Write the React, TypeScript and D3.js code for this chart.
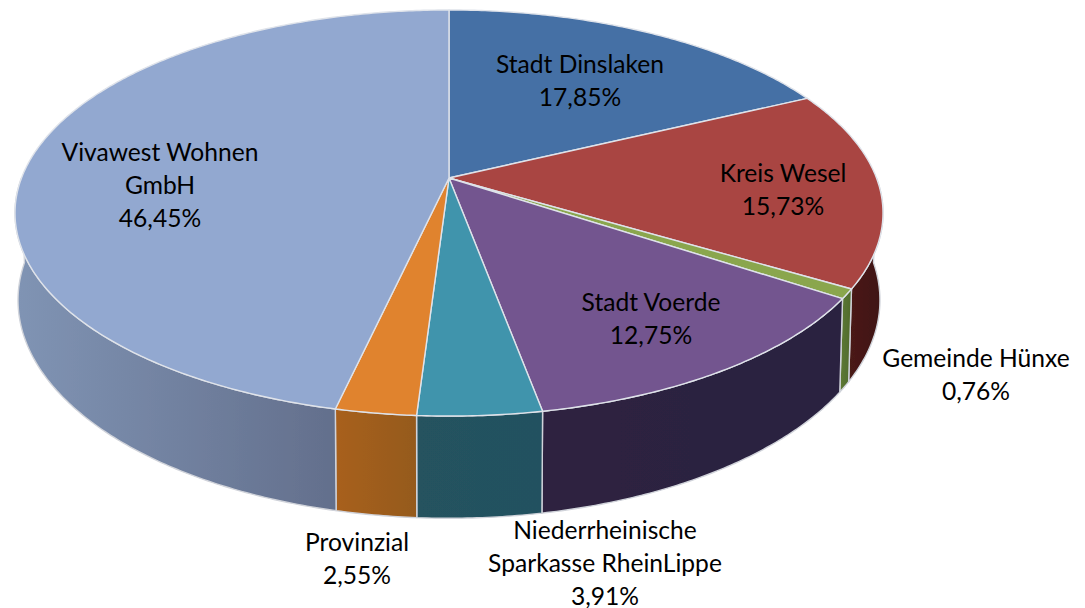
import * as d3 from "d3";

const categories = ["Stadt Dinslaken", "Kreis Wesel", "Gemeinde Hünxe", "Stadt Voerde", "Niederrheinische Sparkasse RheinLippe", "Provinzial", "Vivawest Wohnen GmbH"];
const shares = [17.85, 15.73, 0.76, 12.75, 3.91, 2.55, 46.45];
const topColors = ["#456fa5", "#a94543", "#8aa64e", "#73558f", "#3f94ac", "#e0832f", "#92a8d0"];
const wallLeft = ["#2b4468", "#4a1a17", "#5f7a35", "#2e2340", "#25525f", "#a8601f", "#8094b4"];
const wallRight = ["#2b4468", "#3f1512", "#4f6a2c", "#2a2040", "#235160", "#955a1e", "#636f8c"];

// label text lines, one list per slice
const labelLines = [
  ["Stadt Dinslaken"],
  ["Kreis Wesel"],
  ["Gemeinde Hünxe"],
  ["Stadt Voerde"],
  ["Niederrheinische", "Sparkasse RheinLippe"],
  ["Provinzial"],
  ["Vivawest Wohnen", "GmbH"],
];
// centre of each label's first line
const labelX = [580, 783, 976, 651, 605, 357, 160];
const labelY = [63, 172, 357, 301, 529, 541, 151];

const width = 1085;
const height = 608;
const cx = 449;
const cy = 178;
const rx = 427.5;
const ry = 197;
const tilt = 0.1724;
const depth = 84.6;
const wallShrink = 0.993;
const wallCx = 447;

const fmt = d3.format(".2f");
const pct = (v: number) => fmt(v).replace(".", ",") + "%";

// circle angle -> perspective point on the top face
function topPoint(a: number): [number, number] {
  const u = Math.sin(a);
  const v = -Math.cos(a);
  const s = 1 / (1 - tilt * v);
  return [cx + rx * u * s, cy + ry * v * s];
}

// same angle on the lower rim
function bottomPoint(a: number): [number, number] {
  const v = -Math.cos(a);
  const s = 1 / (1 - tilt * v);
  const [x, y] = topPoint(a);
  return [wallCx + (x - wallCx) * wallShrink, y + depth * s];
}

function arcAngles(a0: number, a1: number) {
  const n = Math.max(2, Math.ceil((a1 - a0) / 0.01));
  return d3.range(n + 1).map((i) => a0 + ((a1 - a0) * i) / n);
}

const line = d3.line();

export default function App() {
  const arcs = d3.pie<number>().sort(null).value((d) => d)(shares);

  const topPaths = arcs.map((s) =>
    line([[cx, cy], ...arcAngles(s.startAngle, s.endAngle).map(topPoint)])! + "Z"
  );

  // walls only exist on the front half
  const walls = arcs
    .map((s, i) => {
      const a0 = Math.max(s.startAngle, Math.PI / 2);
      const a1 = Math.min(s.endAngle, (3 * Math.PI) / 2);
      if (a1 <= a0) return null;
      const angles = arcAngles(a0, a1);
      const pts = [...angles.map(topPoint), ...angles.slice().reverse().map(bottomPoint)];
      const xs = pts.map((p) => p[0]);
      return { i, d: line(pts)! + "Z", x0: d3.min(xs)!, x1: d3.max(xs)!, a0, a1 };
    })
    .filter((w) => w !== null) as { i: number; d: string; x0: number; x1: number; a0: number; a1: number }[];

  return (
    <svg
      width={width}
      height={height}
      viewBox={`0 0 ${width} ${height}`}
      style={{ position: "fixed", left: 0, top: 0, background: "#fff", display: "block" }}
    >
      <defs>
        <filter id="soft" x="-5%" y="-5%" width="110%" height="110%">
          <feGaussianBlur stdDeviation="0.6" />
        </filter>
        {walls.map((w) => (
          <linearGradient
            key={w.i}
            id={`wall-${w.i}`}
            gradientUnits="userSpaceOnUse"
            x1={w.x0}
            x2={w.x1}
            y1={0}
            y2={0}
          >
            <stop offset="0%" stopColor={wallLeft[w.i]} />
            <stop offset="100%" stopColor={wallRight[w.i]} />
          </linearGradient>
        ))}
      </defs>

      <g filter="url(#soft)">
        {/* side walls */}
        {walls.map((w) => (
          <path key={w.i} d={w.d} fill={`url(#wall-${w.i})`} stroke="#d0d3da" strokeWidth={1.4} strokeLinejoin="round" />
        ))}

        {/* top face */}
        {topPaths.map((d, i) => (
          <path key={categories[i]} d={d} fill={topColors[i]} stroke="#dfe3ea" strokeWidth={1.4} strokeLinejoin="round" />
        ))}
      </g>

      {/* labels */}
      <g fontFamily="Lato, sans-serif" fontSize={24.6} fill="#000" textAnchor="middle">
        {categories.map((c, i) => {
          const lines = [...labelLines[i], pct(shares[i])];
          return (
            <text key={c} x={labelX[i]} y={labelY[i]} dominantBaseline="central">
              {lines.map((t, j) => (
                <tspan key={j} x={labelX[i]} dy={j === 0 ? 0 : 33}>
                  {t}
                </tspan>
              ))}
            </text>
          );
        })}
      </g>
    </svg>
  );
}
